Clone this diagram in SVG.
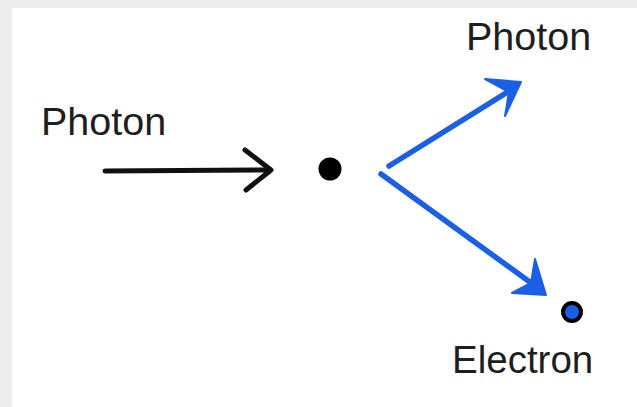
<svg xmlns="http://www.w3.org/2000/svg" width="637" height="407" viewBox="0 0 637 407">
  <style>
    .lbl { font-family: "Liberation Sans", Arial, sans-serif; font-size: 38.5px; fill: #1e1e1e; }
    .wide { font-size: 39.5px; }
    .blk { stroke: #111111; stroke-width: 5; fill: none; stroke-linecap: round; stroke-linejoin: round; }
    .blu { stroke: #1b5fe6; stroke-width: 5.5; fill: none; stroke-linecap: round; }
    .bluhead { fill: #1b5fe6; stroke: #1b5fe6; stroke-width: 2; stroke-linejoin: round; }
  </style>
  <rect x="0" y="0" width="637" height="407" fill="#ececec"/>
  <rect x="12" y="8" width="625" height="399" fill="#ffffff"/>

  <g id="incoming-photon">
    <text class="lbl wide" x="41" y="135">Photon</text>
  </g>
  <g id="target">
    <circle cx="330" cy="169" r="11.5" fill="#000000"/>
  </g>
  <g id="scattered-photon">
    <text class="lbl wide" x="466" y="50">Photon</text>
  </g>
  <g id="electron">
    <circle cx="572" cy="312" r="9" fill="#1b5fe6" stroke="#000000" stroke-width="4"/>
    <text class="lbl" x="452" y="373">Electron</text>
  </g>

  <g id="connectors">
    <path class="blk" d="M105 171 L270 170"/>
    <path class="blk" d="M245 150 L271 170 L246 190"/>
    <path class="blu" d="M389 166 L514 88"/>
    <polygon class="bluhead" points="521,82 485,79 509,92 505,116"/>
    <path class="blu" d="M381 174 L538 288"/>
    <polygon class="bluhead" points="546,295 535,259 531,283 512,293"/>
  </g>
</svg>
